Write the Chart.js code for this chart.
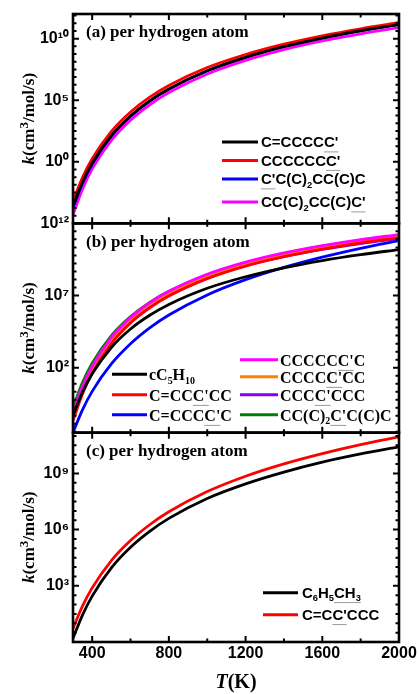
<!DOCTYPE html>
<html>
<head>
<meta charset="utf-8">
<script src="https://cdn.jsdelivr.net/npm/chart.js@4.4.0/dist/chart.umd.min.js"></script>
<style>
html, body { margin: 0; padding: 0; background: #fff; }
#chart { display: block; }
</style>
</head>
<body>
<canvas id="chart" width="419" height="694"></canvas>
<script>
// temperatures (K) at which the curves were read
const temps = [300, 350, 400, 500, 600, 700, 800, 1000, 1200, 1400, 1600, 1800, 2000];

// values are log10 k
// (a)
const aHexenyl   = [-3.6, -1.64, -0.12, 2.12, 3.72, 4.95, 5.91, 7.39, 8.48, 9.35, 10.05, 10.64, 11.14];
const aHeptyl    = [-3.2, -1.26, 0.24, 2.46, 4.04, 5.25, 6.2, 7.65, 8.71, 9.55, 10.23, 10.8, 11.29];
const aDmhPrim1  = [-3.72, -1.72, -0.18, 2.09, 3.7, 4.93, 5.9, 7.39, 8.49, 9.36, 10.07, 10.66, 11.17];
const aDmhPrim2  = [-4.3, -2.21, -0.58, 1.74, 3.38, 4.63, 5.62, 7.13, 8.24, 9.11, 9.81, 10.39, 10.89];
// (b)
const bCyclo     = [-1.3, 0.33, 1.58, 3.4, 4.68, 5.63, 6.38, 7.5, 8.3, 8.92, 9.42, 9.83, 10.18];
const bHexen4    = [-1.67, 0.19, 1.61, 3.66, 5.09, 6.14, 6.96, 8.17, 9.04, 9.69, 10.21, 10.64, 11.0];
const bHexen5    = [-2.48, -0.9, 0.36, 2.26, 3.66, 4.76, 5.65, 7.04, 8.1, 8.95, 9.66, 10.27, 10.8];
const bHeptyl2   = [-1.1, 0.71, 2.09, 4.09, 5.47, 6.5, 7.29, 8.47, 9.31, 9.95, 10.45, 10.87, 11.22];
const bHeptyl3   = [-1.2, 0.6, 1.98, 3.98, 5.36, 6.38, 7.18, 8.36, 9.19, 9.83, 10.33, 10.75, 11.1];
const bHeptyl4   = [-1.15, 0.62, 1.98, 3.94, 5.3, 6.3, 7.09, 8.24, 9.07, 9.69, 10.19, 10.6, 10.94];
const bDmhTert   = [-0.75, 0.98, 2.31, 4.22, 5.54, 6.53, 7.29, 8.42, 9.22, 9.83, 10.32, 10.71, 11.05];
// (c)
const cToluene   = [0.2, 1.45, 2.45, 3.96, 5.06, 5.91, 6.6, 7.66, 8.44, 9.07, 9.6, 10.04, 10.42];
const cHexen3    = [0.73, 1.93, 2.89, 4.35, 5.42, 6.26, 6.95, 8.03, 8.85, 9.51, 10.06, 10.54, 10.95];

// legend names: [..] underlined, _n subscript
const namesA = ["C=CCCC[C']", "CCCCCC[C']", "[C']C(C)_2CC(C)C", "CC(C)_2CC(C)[C']"];
const namesB = ["cC_5H_10", "C=CC[C']CC", "C=CCC[C']C", "CCCCC[C']C", "CCCC[C']CC", "CCC[C']CCC", "CC(C)_2[C']C(C)C"];
const namesC = ["C_6H_5[CH_3]", "C=C[C']CCC"];

// ticks (exponents of ten for the y axes)
const xTicks = [400, 800, 1200, 1600, 2000];
const xMinor = [600, 1000, 1400, 1800];
const yTicksA = [0, 5, 10];
const yTicksB = [2, 7, 12];
const yTicksC = [3, 6, 9];

const SANS = "'Liberation Sans', Arial, sans-serif";
const SERIF = "'Liberation Serif', 'Times New Roman', serif";
const SUP = {'0':'⁰','1':'¹','2':'²','3':'³','4':'⁴','5':'⁵','6':'⁶','7':'⁷','8':'⁸','9':'⁹','-':'⁻'};
const powLabel = e => '10' + String(e).split('').map(c => SUP[c]).join('');

function series(label, logs, color, axis) {
  return {
    label, yAxisID: axis,
    data: logs.map((v, i) => ({ x: temps[i], y: Math.pow(10, v) })),
    borderColor: color, borderWidth: 2.8, pointRadius: 0,
    cubicInterpolationMode: 'monotone', fill: false
  };
}

function yAxis(min, max, exps) {
  return {
    type: 'logarithmic', position: 'left', stack: 'k', stackWeight: 1,
    min, max,
    grid: { display: false, drawTicks: false },
    border: { display: false },
    afterBuildTicks: s => { s.ticks = exps.map(e => ({ value: Math.pow(10, e) })); },
    afterFit: s => { s.width = 73; },
    ticks: {
      autoSkip: false, padding: 4, color: '#000',
      font: { family: SANS, size: 16, weight: 'bold' },
      callback: v => powLabel(Math.round(Math.log10(v)))
    }
  };
}

const colorsA = ['#000000', '#ff0000', '#0000ff', '#ff00ff'];
const colorsB = ['#000000', '#ff0000', '#0000ff', '#ff00ff', '#ff8000', '#8000ff', '#008000'];
const colorsC = ['#000000', '#ff0000'];

const datasets = [
  ...[aHexenyl, aHeptyl, aDmhPrim1, aDmhPrim2].map((d, i) => series(namesA[i], d, colorsA[i], 'ya')),
  ...[bCyclo, bHexen4, bHexen5, bHeptyl2, bHeptyl3, bHeptyl4, bDmhTert].map((d, i) => series(namesB[i], d, colorsB[i], 'yb')),
  ...[cToluene, cHexen3].map((d, i) => series(namesC[i], d, colorsC[i], 'yc'))
];

// rich text: underline + subscript
function parseRich(s) {
  const runs = [];
  let u = false;
  const push = (t, sub) => {
    const last = runs[runs.length - 1];
    if (last && last.sub === sub && last.u === u) last.t += t;
    else runs.push({ t, sub, u });
  };
  for (let i = 0; i < s.length; i++) {
    const c = s[i];
    if (c === '[') { u = true; continue; }
    if (c === ']') { u = false; continue; }
    if (c === '_') {
      let d = '';
      while (i + 1 < s.length && /\d/.test(s[i + 1])) d += s[++i];
      push(d, true);
      continue;
    }
    push(c, false);
  }
  return runs;
}

function drawRich(ctx, s, x, y, size, family) {
  let cx = x;
  const base = y + size * 0.36;
  ctx.textBaseline = 'alphabetic';
  ctx.textAlign = 'left';
  parseRich(s).forEach(r => {
    const fs = r.sub ? size * 0.62 : size;
    ctx.font = `bold ${fs}px ${family}`;
    const w = ctx.measureText(r.t).width;
    ctx.fillStyle = '#000';
    ctx.fillText(r.t, cx, r.sub ? base + size * 0.22 : base);
    if (r.u) {
      ctx.save();
      ctx.strokeStyle = '#9a9a9a';
      ctx.lineWidth = 1;
      ctx.beginPath();
      ctx.moveTo(cx, base + size * 0.3);
      ctx.lineTo(cx + w, base + size * 0.3);
      ctx.stroke();
      ctx.restore();
    }
    cx += w;
  });
}

const panels = [
  { id: 'ya', tag: '(a) per hydrogen atom', major: yTicksA, step: 5 / 8,
    legend: [{ x0: 149, x1: 185, tx: 188, size: 15, fam: SANS, rows: [128, 146.5, 165, 188], names: namesA, colors: colorsA }] },
  { id: 'yb', tag: '(b) per hydrogen atom', major: yTicksB, step: 5 / 9,
    legend: [
      { x0: 39, x1: 74, tx: 76, size: 16, fam: SERIF, rows: [151, 171.5, 191.5], names: namesB.slice(0, 3), colors: colorsB.slice(0, 3) },
      { x0: 167, x1: 205, tx: 207, size: 16, fam: SERIF, rows: [136.5, 153.5, 171.5, 191.5], names: namesB.slice(3), colors: colorsB.slice(3) }
    ] },
  { id: 'yc', tag: '(c) per hydrogen atom', major: yTicksC, step: 0.5,
    legend: [{ x0: 190, x1: 225, tx: 229, size: 15, fam: SANS, rows: [160, 182], names: namesC, colors: colorsC }] }
];

const decor = {
  id: 'decor',
  afterDatasetsDraw(chart) {
    const { ctx, chartArea: area, scales } = chart;
    const xs = scales.x;
    ctx.save();
    panels.forEach(p => {
      const ys = scales[p.id];
      const lo = Math.log10(ys.min), hi = Math.log10(ys.max);
      ctx.strokeStyle = '#000';
      ctx.lineWidth = 2;
      ctx.beginPath();
      // x ticks on top and bottom edge of each panel
      xTicks.concat(xMinor).forEach(v => {
        const len = xTicks.includes(v) ? 6 : 3.5;
        const x = xs.getPixelForValue(v);
        ctx.moveTo(x, ys.top); ctx.lineTo(x, ys.top + len);
        ctx.moveTo(x, ys.bottom); ctx.lineTo(x, ys.bottom - len);
      });
      // y ticks on left and right
      const base = p.major[0];
      for (let k = -40; k <= 40; k++) {
        const e = base + k * p.step;
        if (e < lo - 1e-6 || e > hi + 1e-6) continue;
        const gap = p.major[1] - p.major[0];
        const isMajor = Math.abs(Math.round((e - base) / gap) * gap - (e - base)) < 1e-6;
        const len = isMajor ? 6 : 3.5;
        const y = ys.getPixelForValue(Math.pow(10, e));
        ctx.moveTo(area.left, y); ctx.lineTo(area.left + len, y);
        ctx.moveTo(area.right, y); ctx.lineTo(area.right - len, y);
      }
      ctx.stroke();
      ctx.lineWidth = 2.6;
      ctx.strokeRect(area.left, ys.top, area.right - area.left, ys.bottom - ys.top);

      // panel tag
      ctx.fillStyle = '#000';
      ctx.font = `bold 17px ${SERIF}`;
      ctx.textBaseline = 'middle';
      ctx.textAlign = 'left';
      ctx.fillText(p.tag, area.left + 13, ys.top + 19);

      // legend
      p.legend.forEach(L => {
        L.rows.forEach((ry, i) => {
          const y = ys.top + ry;
          ctx.strokeStyle = L.colors[i];
          ctx.lineWidth = 3;
          ctx.beginPath();
          ctx.moveTo(area.left + L.x0, y);
          ctx.lineTo(area.left + L.x1, y);
          ctx.stroke();
          drawRich(ctx, L.names[i], area.left + L.tx, y, L.size, L.fam);
        });
      });

      // y title
      ctx.save();
      ctx.translate(28, (ys.top + ys.bottom) / 2);
      ctx.rotate(-Math.PI / 2);
      const parts = [
        { t: 'k', f: `italic bold 17px ${SERIF}`, dy: 0 },
        { t: '(cm', f: `bold 17px ${SERIF}`, dy: 0 },
        { t: '3', f: `bold 13px ${SERIF}`, dy: -6 },
        { t: '/mol/s)', f: `bold 17px ${SERIF}`, dy: 0 }
      ];
      let total = 0;
      parts.forEach(q => { ctx.font = q.f; q.w = ctx.measureText(q.t).width; total += q.w; });
      let cx = -total / 2;
      ctx.textBaseline = 'alphabetic';
      parts.forEach(q => { ctx.font = q.f; ctx.fillText(q.t, cx, 6 + q.dy); cx += q.w; });
      ctx.restore();
    });

    // x title
    const tParts = [
      { t: 'T', f: `italic bold 20px ${SERIF}` },
      { t: '(K)', f: `bold 20px ${SERIF}` }
    ];
    let tw = 0;
    tParts.forEach(q => { ctx.font = q.f; q.w = ctx.measureText(q.t).width; tw += q.w; });
    let tx = (area.left + area.right) / 2 - tw / 2;
    ctx.textBaseline = 'alphabetic';
    ctx.fillStyle = '#000';
    tParts.forEach(q => { ctx.font = q.f; ctx.fillText(q.t, tx, 688); tx += q.w; });
    ctx.restore();
  }
};

new Chart(document.getElementById('chart'), {
  type: 'line',
  data: { datasets },
  options: {
    responsive: false,
    animation: false,
    devicePixelRatio: 1,
    layout: { padding: { top: 14, right: 20, left: 0, bottom: 0 } },
    plugins: { legend: { display: false }, tooltip: { enabled: false } },
    scales: {
      x: {
        type: 'linear', min: 300, max: 2000,
        grid: { display: false, drawTicks: false },
        border: { display: false },
        afterBuildTicks: s => { s.ticks = xTicks.map(v => ({ value: v })); },
        afterFit: s => { s.height = 52; },
        ticks: {
          autoSkip: false, maxRotation: 0, padding: 2, color: '#000',
          font: { family: SANS, size: 16, weight: 'bold' },
          callback: v => String(v)
        }
      },
      yc: yAxis(1, 1.5e11, yTicksC),
      yb: yAxis(Math.pow(10, -2.5), 1e12, yTicksB),
      ya: yAxis(1e-5, 1e12, yTicksA)
    }
  },
  plugins: [decor]
});
</script>
</body>
</html>
